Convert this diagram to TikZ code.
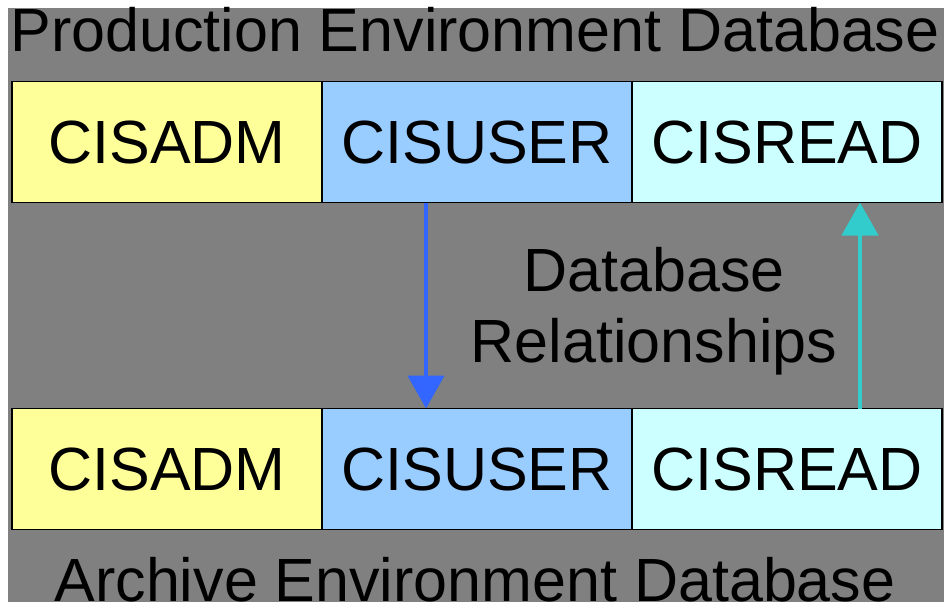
\documentclass[tikz,border=0pt]{standalone}
\usepackage{fontspec}
\setmainfont{Liberation Sans}
\usepackage{tikz}
\usetikzlibrary{arrows.meta, positioning}
\usepackage{xcolor}
\definecolor{bggray}{HTML}{808080}
\definecolor{schadm}{HTML}{FFFF99}
\definecolor{schuser}{HTML}{99CCFF}
\definecolor{schread}{HTML}{CCFFFF}
\definecolor{relblue}{HTML}{3366FF}
\definecolor{relcyan}{HTML}{33CCCC}

\begin{document}
\begin{tikzpicture}[x=1pt, y=-1pt,
  schema/.style={draw=black, line width=1.5pt, minimum width=310pt, minimum height=121pt,
                 inner sep=0pt, outer sep=0pt, font=\fontsize{61}{71}\selectfont},
  envlabel/.style={anchor=base, inner sep=0pt, font=\fontsize{61}{71}\selectfont},
  rel/.style={line width=4.5pt, -{Triangle[length=33pt, width=36pt]}}
]
  \useasboundingbox (0,0) rectangle (944,602);
  \fill[bggray] (8,8) rectangle (944,602);

  % Production
  \node[envlabel] (prod) at (475,52) {Production Environment Database};
  \node[schema, fill=schadm] (pa) at (167,142) {CISADM};
  \node[schema, fill=schuser] (pu) at (477,142) {CISUSER};
  \node[schema, fill=schread] (pr) at (787,142) {CISREAD};

  % Archive
  \node[schema, fill=schadm] (aa) at (167,469) {CISADM};
  \node[schema, fill=schuser] (au) at (477,469) {CISUSER};
  \node[schema, fill=schread] (ar) at (787,469) {CISREAD};
  \node[envlabel] (arch) at (475,601) {Archive Environment Database};

  % Relationships
  \draw[rel, relblue] ([xshift=-51pt]pu.south) -- ([xshift=-51pt]au.north);
  \draw[rel, relcyan] ([xshift=73pt]ar.north) -- ([xshift=73pt]pr.south);
  \node[align=center, font=\fontsize{61}{71}\selectfont] (rl) at (654,311) {Database\\Relationships};
\end{tikzpicture}
\end{document}
